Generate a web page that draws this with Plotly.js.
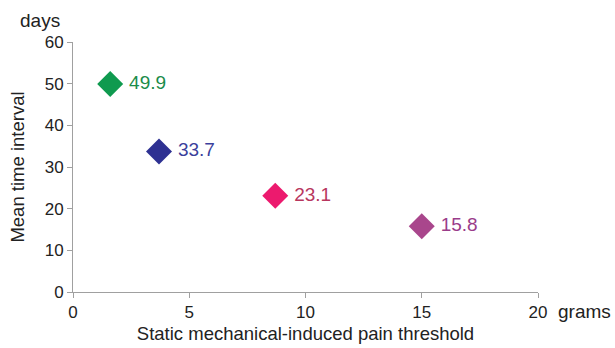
<!DOCTYPE html>
<html>
<head>
<meta charset="utf-8">
<script src="https://cdn.plot.ly/plotly-3.0.1.min.js"></script>
<style>html,body{margin:0;padding:0;background:#fff;}#chart{width:615px;height:348px;}</style>
</head>
<body>
<div id="chart"></div>
<script>
const thresholdGrams = [1.6, 3.7, 8.7, 15.0];
const meanIntervalDays = [49.9, 33.7, 23.1, 15.8];
const pointLabels = ["49.9", "33.7", "23.1", "15.8"];
const markerColors = ["#0f9a4f", "#2e3192", "#ec1a6e", "#a9468c"];
const labelColors = ["#1b8c4a", "#3b3f9c", "#b8365e", "#9a3c8a"];
const xTicks = [0, 5, 10, 15, 20];
const yTicks = [0, 10, 20, 30, 40, 50, 60];

const FONT = "Liberation Sans, Arial, sans-serif";
const trace = {
  x: thresholdGrams,
  y: meanIntervalDays,
  mode: "markers+text",
  type: "scatter",
  text: pointLabels.map(s => "\u2009\u200a" + s),
  textposition: "middle right",
  textfont: {family: FONT, size: 19, color: labelColors},
  marker: {symbol: "diamond", size: 20, color: markerColors, line: {width: 0}},
  cliponaxis: false,
  hoverinfo: "skip"
};

const layout = {
  width: 615, height: 348,
  margin: {l: 73, r: 77, t: 42, b: 55.5, pad: 0},
  paper_bgcolor: "#fff", plot_bgcolor: "#fff",
  showlegend: false,
  font: {family: FONT, color: "#222", size: 17},
  xaxis: {
    range: [0, 20], tickvals: xTicks, ticktext: xTicks.map(String),
    showgrid: false, zeroline: false, showline: true, linecolor: "#a0a0a0", linewidth: 1,
    ticks: "outside", ticklen: 5, tickcolor: "#a0a0a0",
    tickfont: {family: FONT, size: 17, color: "#222"},
    title: {text: "Static mechanical-induced pain threshold", font: {family: FONT, size: 18.5, color: "#222"}, standoff: 5}
  },
  yaxis: {
    range: [0, 60], tickvals: yTicks, ticktext: yTicks.map(String),
    showgrid: false, zeroline: false, showline: true, linecolor: "#a0a0a0", linewidth: 1,
    ticks: "outside", ticklen: 5, tickcolor: "#a0a0a0",
    tickfont: {family: FONT, size: 17, color: "#222"},
    title: {text: "Mean time interval", font: {family: FONT, size: 18.5, color: "#222"}, standoff: 15}
  },
  annotations: [
    {text: "days", xref: "paper", yref: "paper", x: -0.024, y: 1.0, yshift: 22, xanchor: "right", yanchor: "middle", showarrow: false, font: {family: FONT, size: 19, color: "#222"}},
    {text: "grams", xref: "paper", yref: "paper", x: 1.0, y: 0, xshift: 18, yshift: -19, xanchor: "left", yanchor: "middle", showarrow: false, font: {family: FONT, size: 19, color: "#222"}}
  ]
};

Plotly.newPlot("chart", [trace], layout, {displayModeBar: false, staticPlot: true});
</script>
</body>
</html>
